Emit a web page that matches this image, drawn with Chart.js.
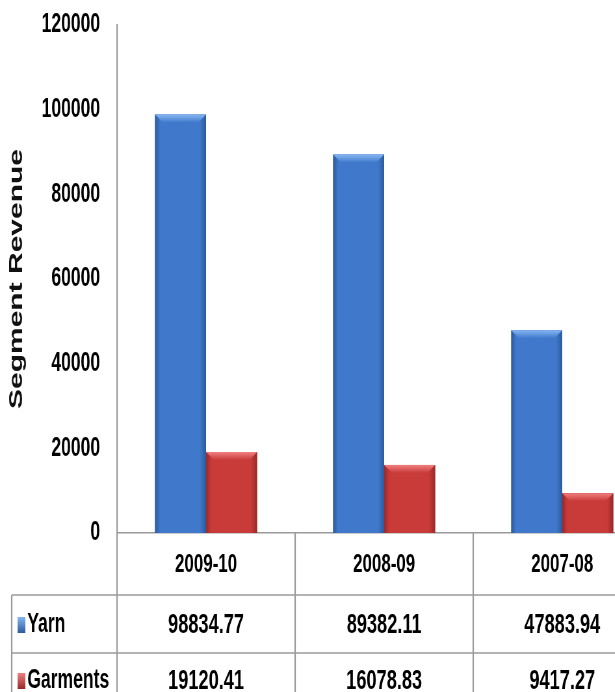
<!DOCTYPE html>
<html>
<head>
<meta charset="utf-8">
<script src="https://cdn.jsdelivr.net/npm/chart.js@4.4.1/dist/chart.umd.min.js"></script>
<style>
  html, body { margin: 0; padding: 0; background: #fff; overflow: hidden; }
  #wrap { width: 615px; height: 692px; overflow: hidden; }
  /* the original picture is squeezed horizontally */
  #chart { transform: scaleX(0.65); transform-origin: 0 0; }
</style>
</head>
<body>
<div id="wrap"><canvas id="chart" width="1002" height="692"></canvas></div>
<script>
// Dados do gráfico
const categories = ['2009-10', '2008-09', '2007-08'];
const seriesNames = ['Yarn', 'Garments'];
const yarnValues = [98834.77, 89382.11, 47883.94];
const garmentValues = [19120.41, 16078.83, 9417.27];
const yMax = 120000;
const yStep = 20000;

const blue = { body: '#4079cb', dark: '#2c5a9c', light: '#86b6f2' };
const red = { body: '#c83b39', dark: '#98292a', light: '#f08080' };
const palette = [blue, red];
const gridColor = '#9a9a9a';
const family = 'Liberation Sans';

// efeito de chanfro nas barras
const bevelPlugin = {
    id: 'bevel',
    afterDatasetsDraw(chart) {
        const ctx = chart.ctx;
        chart.data.datasets.forEach((ds, di) => {
            const meta = chart.getDatasetMeta(di);
            const c = palette[di];
            meta.data.forEach(bar => {
                const p = bar.getProps(['x', 'y', 'base', 'width'], true);
                const l = p.x - p.width / 2, r = p.x + p.width / 2;
                const top = p.y, bot = p.base;
                ctx.save();
                const g = ctx.createLinearGradient(l, 0, r, 0);
                g.addColorStop(0, c.dark);
                g.addColorStop(0.1, c.body);
                g.addColorStop(0.88, c.body);
                g.addColorStop(1, c.dark);
                ctx.fillStyle = g;
                ctx.fillRect(l, top, r - l, bot - top);
                const bx = 12, by = 8;
                const tg = ctx.createLinearGradient(0, top, 0, top + by);
                tg.addColorStop(0, c.light);
                tg.addColorStop(1, c.body);
                ctx.fillStyle = tg;
                ctx.beginPath();
                ctx.moveTo(l, top);
                ctx.lineTo(r, top);
                ctx.lineTo(r - bx, top + by);
                ctx.lineTo(l + bx, top + by);
                ctx.closePath();
                ctx.fill();
                ctx.restore();
            });
        });
    }
};

// tabela de dados abaixo do eixo x
const tablePlugin = {
    id: 'dataTable',
    afterDraw(chart) {
        const ctx = chart.ctx;
        const xs = chart.scales.x;
        const area = chart.chartArea;
        const step = xs.getPixelForValue(1) - xs.getPixelForValue(0);
        const rowTops = [area.bottom, 595, 653, 711];
        const tableLeft = 18;
        const right = xs.right;
        const rows = [yarnValues, garmentValues];

        ctx.save();
        ctx.strokeStyle = gridColor;
        ctx.lineWidth = 2.2;
        // linhas verticais
        for (let i = 0; i <= categories.length; i++) {
            const x = xs.getPixelForValue(0) - step / 2 + i * step;
            ctx.beginPath();
            ctx.moveTo(x, rowTops[0]);
            ctx.lineTo(x, rowTops[3]);
            ctx.stroke();
        }
        ctx.beginPath();
        ctx.moveTo(tableLeft, rowTops[1]);
        ctx.lineTo(tableLeft, rowTops[3]);
        ctx.stroke();
        // linhas horizontais
        ctx.lineWidth = 1.3;
        [rowTops[1], rowTops[2]].forEach(y => {
            ctx.beginPath();
            ctx.moveTo(tableLeft, y);
            ctx.lineTo(right, y);
            ctx.stroke();
        });

        ctx.fillStyle = '#000';
        ctx.textAlign = 'center';
        ctx.textBaseline = 'middle';
        ctx.font = 'bold 26px "' + family + '"';
        categories.forEach((cat, i) => {
            ctx.fillText(cat, xs.getPixelForValue(i), (rowTops[0] + rowTops[1]) / 2 + 1);
        });
        ctx.font = 'bold 28px "' + family + '"';
        rows.forEach((vals, ri) => {
            const yc = (rowTops[ri + 1] + rowTops[ri + 2]) / 2 + (ri === 1 ? -1 : 1);
            vals.forEach((v, i) => {
                ctx.fillText(v.toFixed(2), xs.getPixelForValue(i), yc);
            });
        });
        // cabeçalhos das linhas com a chave da legenda
        ctx.textAlign = 'left';
        ctx.font = 'bold 27px "' + family + '"';
        seriesNames.forEach((name, ri) => {
            const yc = (rowTops[ri + 1] + rowTops[ri + 2]) / 2 + (ri === 1 ? -1 : 1);
            const c = palette[ri];
            const g = ctx.createLinearGradient(0, yc - 8, 0, yc + 8);
            g.addColorStop(0, c.light);
            g.addColorStop(1, c.dark);
            ctx.fillStyle = g;
            ctx.fillRect(27, yc - 8, 12, 16);
            ctx.fillStyle = '#000';
            ctx.fillText(name, 42, yc);
        });
        ctx.restore();
    }
};

new Chart(document.getElementById('chart'), {
    type: 'bar',
    data: {
        labels: categories,
        datasets: [
            { label: seriesNames[0], data: yarnValues, backgroundColor: blue.body, borderWidth: 0 },
            { label: seriesNames[1], data: garmentValues, backgroundColor: red.body, borderWidth: 0 }
        ]
    },
    options: {
        responsive: false,
        animation: false,
        layout: { padding: { top: 25, right: 0, left: 0, bottom: 0 } },
        plugins: { legend: { display: false }, tooltip: { enabled: false } },
        datasets: { bar: { categoryPercentage: 0.573, barPercentage: 1 } },
        scales: {
            x: {
                grid: { display: false, drawTicks: false },
                border: { display: true, color: gridColor, width: 1.5 },
                ticks: { display: false },
                afterFit(scale) { scale.height = 159; }
            },
            y: {
                min: 0,
                max: yMax,
                grid: { display: false, drawTicks: false },
                border: { display: true, color: gridColor, width: 2.2 },
                ticks: {
                    stepSize: yStep,
                    padding: 26,
                    color: '#000',
                    font: { family: family, size: 27, weight: 'bold' },
                    callback: value => String(value)
                },
                title: {
                    display: true,
                    text: 'Segment Revenue',
                    color: '#111',
                    padding: { top: 8, bottom: 0 },
                    font: { family: family, size: 30, weight: 'bold' }
                },
                afterFit(scale) {
                    scale.width = 180;
                    scale.paddingTop = 0;
                    scale.paddingBottom = 0;
                }
            }
        }
    },
    plugins: [bevelPlugin, tablePlugin]
});
</script>
</body>
</html>
